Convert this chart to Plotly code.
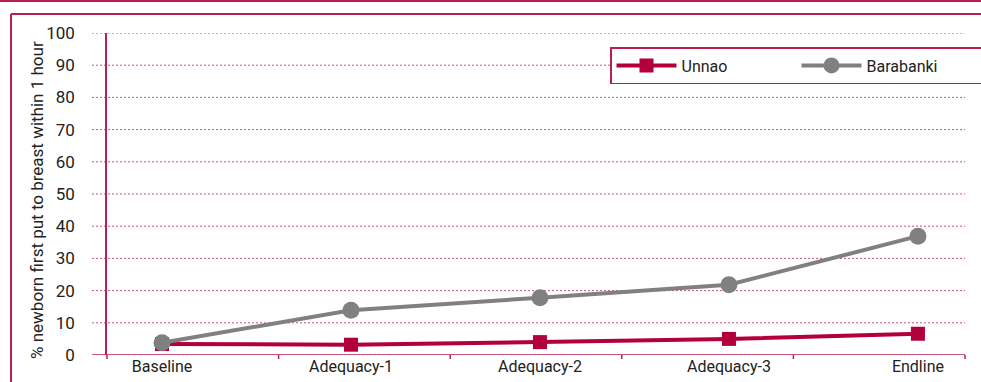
import plotly.graph_objects as go

categories = ["Baseline", "Adequacy-1", "Adequacy-2", "Adequacy-3", "Endline"]
unnao = [3.4, 3.2, 4.0, 5.0, 6.6]
barabanki = [3.8, 13.9, 17.8, 21.8, 36.9]
y_ticks = [0, 10, 20, 30, 40, 50, 60, 70, 80, 90, 100]
y_title = "% newborn first put to breast within 1 hour"

RED = "#B2003A"
GRAY = "#808080"
AXIS = "#B81E52"
GRID = "#C9517B"
TEXT = "#222222"
FONT = "Roboto"

W, H = 981, 382
L, R, T, B = 107, 16, 33, 27
pw, ph = W - L - R, H - T - B


def px_x(px):
    return (px - L) / pw


def px_y(py):
    return (H - B - py) / ph


fig = go.Figure()
fig.add_trace(go.Scatter(
    x=categories, y=unnao, name="Unnao", mode="lines+markers",
    line=dict(color=RED, width=4),
    marker=dict(symbol="square", size=14, color=RED),
))
fig.add_trace(go.Scatter(
    x=categories, y=barabanki, name="Barabanki", mode="lines+markers",
    line=dict(color=GRAY, width=4),
    marker=dict(symbol="circle", size=17, color=GRAY),
))

shapes = []
# gridlines
for v in y_ticks[1:]:
    shapes.append(dict(type="line", xref="paper", yref="y", x0=px_x(92), x1=1, y0=v, y1=v,
                       line=dict(color=GRID, width=1, dash="2px,2px"), layer="below"))
# zero line / x-axis
shapes.append(dict(type="line", xref="paper", yref="y", x0=px_x(92), x1=1, y0=0, y1=0,
                   line=dict(color=AXIS, width=1.5)))
# x tick marks at category boundaries
for i in range(6):
    xp = i / 5
    shapes.append(dict(type="line", xref="paper", yref="paper", x0=xp, x1=xp,
                       y0=0, y1=px_y(359), line=dict(color=AXIS, width=1.5)))
# outer frame lines
shapes.append(dict(type="line", xref="paper", yref="paper", x0=px_x(-5), x1=px_x(990),
                   y0=px_y(1), y1=px_y(1), line=dict(color=AXIS, width=2)))
shapes.append(dict(type="line", xref="paper", yref="paper", x0=px_x(11), x1=px_x(990),
                   y0=px_y(14), y1=px_y(14), line=dict(color=AXIS, width=2)))
shapes.append(dict(type="line", xref="paper", yref="paper", x0=px_x(11), x1=px_x(11),
                   y0=px_y(14), y1=px_y(390), line=dict(color=AXIS, width=2)))

fig.update_layout(
    width=W, height=H,
    margin=dict(l=L, r=R, t=T, b=B, autoexpand=False),
    paper_bgcolor="white", plot_bgcolor="white",
    font=dict(family=FONT, size=16, color=TEXT),
    shapes=shapes,
    annotations=[dict(text=y_title, textangle=-90, xref="paper", yref="paper",
                      x=px_x(37), y=px_y(200), xanchor="center", yanchor="middle",
                      showarrow=False, font=dict(family=FONT, size=17, color=TEXT))],
    showlegend=True,
    legend=dict(
        orientation="h", x=px_x(610), y=px_y(47), xanchor="left", yanchor="top",
        bordercolor=AXIS, borderwidth=1.5, bgcolor="white",
        font=dict(family=FONT, size=16, color=TEXT),
        entrywidth=110, entrywidthmode="pixels",
        itemwidth=60, tracegroupgap=0,
    ),
    xaxis=dict(
        type="category", range=[-0.291, 4.249],
        showgrid=False, showline=False, ticks="", zeroline=False,
        tickfont=dict(family=FONT, size=16, color=TEXT),
        fixedrange=True,
    ),
    yaxis=dict(
        range=[0, 100], tickvals=y_ticks, showgrid=False, zeroline=False,
        showline=True, linecolor=AXIS, linewidth=1.5,
        ticks="", ticklabelstandoff=27,
        tickfont=dict(family=FONT, size=17, color=TEXT),
    ),
)

fig.write_html("out.html")
